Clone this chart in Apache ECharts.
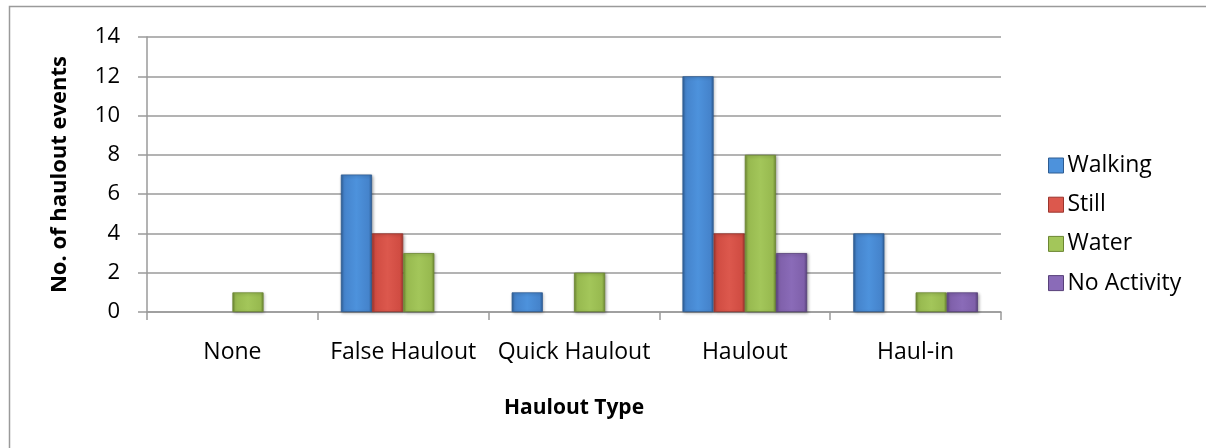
<!DOCTYPE html>
<html><head><meta charset="utf-8">
<script src="https://cdn.jsdelivr.net/npm/echarts@6/dist/echarts.min.js"></script>
<style>html,body{margin:0;padding:0;background:#fff}#c{width:1206px;height:448px}</style>
</head><body><div id="c"></div>
<script>
const categories = ['None','False Haulout','Quick Haulout','Haulout','Haul-in'];
const walking = [0,7,1,12,4];
const still = [0,4,0,4,0];
const water = [1,3,2,8,1];
const noActivity = [0,0,0,3,1];
const yTicks = [0,2,4,6,8,10,12,14];

const FONT = '"Open Sans", "Noto Sans", sans-serif';
function grad(edge, mid, light){
  return {type:'linear',x:0,y:0,x2:1,y2:0,colorStops:[
    {offset:0,color:edge},{offset:0.1,color:mid},{offset:0.5,color:light},{offset:0.9,color:mid},{offset:1,color:edge}]};
}
const styles = [
  {name:'Walking', data:walking, edge:'#2f6099', mid:'#4583cb', light:'#4d92dc', border:'#2e5c92'},
  {name:'Still', data:still, edge:'#a3372f', mid:'#d04c42', light:'#dc584d', border:'#9c352d'},
  {name:'Water', data:water, edge:'#6f8a33', mid:'#97b94f', light:'#a3c65a', border:'#6c8632'},
  {name:'No Activity', data:noActivity, edge:'#5a437c', mid:'#7f60aa', light:'#8a6bb8', border:'#58417a'}
];
const chart = echarts.init(document.getElementById('c'), null, {renderer:'canvas'});
chart.setOption({
  animation:false,
  backgroundColor:'#fff',
  graphic:[{type:'rect',shape:{x:9.5,y:6.5,width:1300,height:500},style:{fill:'none',stroke:'#9a9a9a',lineWidth:1.5},silent:true}],
  grid:{left:147,right:205,top:37,bottom:136,containLabel:false},
  legend:{
    orient:'vertical', left:1043, top:149, itemGap:16.2, itemWidth:15, itemHeight:15,
    textStyle:{fontFamily:FONT,fontSize:23,lineHeight:23,color:'#000',padding:[0,0,0,-1]},
    icon:'rect',
    data: styles.map(s=>({name:s.name,itemStyle:{color:s.light,borderColor:s.border,borderWidth:1}}))
  },
  xAxis:{
    type:'category', data:categories,
    name:'Haulout Type', nameLocation:'middle', nameGap:86,
    nameTextStyle:{fontFamily:FONT,fontSize:21,fontWeight:'bold',color:'#000'},
    axisLine:{lineStyle:{color:'#9a9a9a',width:1.5}},
    axisTick:{show:true,length:8,lineStyle:{color:'#9a9a9a',width:1.5}},
    axisLabel:{fontFamily:FONT,fontSize:23,color:'#000',margin:29,interval:0}
  },
  yAxis:{
    type:'value', min:0, max:14, interval:2,
    name:'No. of haulout events', nameLocation:'middle', nameGap:76, nameRotate:90,
    nameTextStyle:{fontFamily:FONT,fontSize:22,fontWeight:'bold',color:'#000'},
    axisLine:{show:true,lineStyle:{color:'#9a9a9a',width:1.5}},
    axisTick:{show:true,length:9,lineStyle:{color:'#9a9a9a',width:1.5}},
    splitLine:{lineStyle:{color:'#9a9a9a',width:1.5}},
    axisLabel:{fontFamily:FONT,fontSize:22,color:'#000',margin:27,
      formatter:v=>yTicks.includes(v)?String(v):''}
  },
  series: styles.map(s=>({
    name:s.name, type:'bar', data:s.data.map(v=>v===0?null:v), barGap:'0%', barCategoryGap:'27%',
    itemStyle:{color:grad(s.edge,s.mid,s.light), borderColor:s.border, borderWidth:0.8,
      shadowColor:'rgba(0,0,0,0.3)', shadowBlur:3, shadowOffsetX:1, shadowOffsetY:1}
  }))
});
</script></body></html>
